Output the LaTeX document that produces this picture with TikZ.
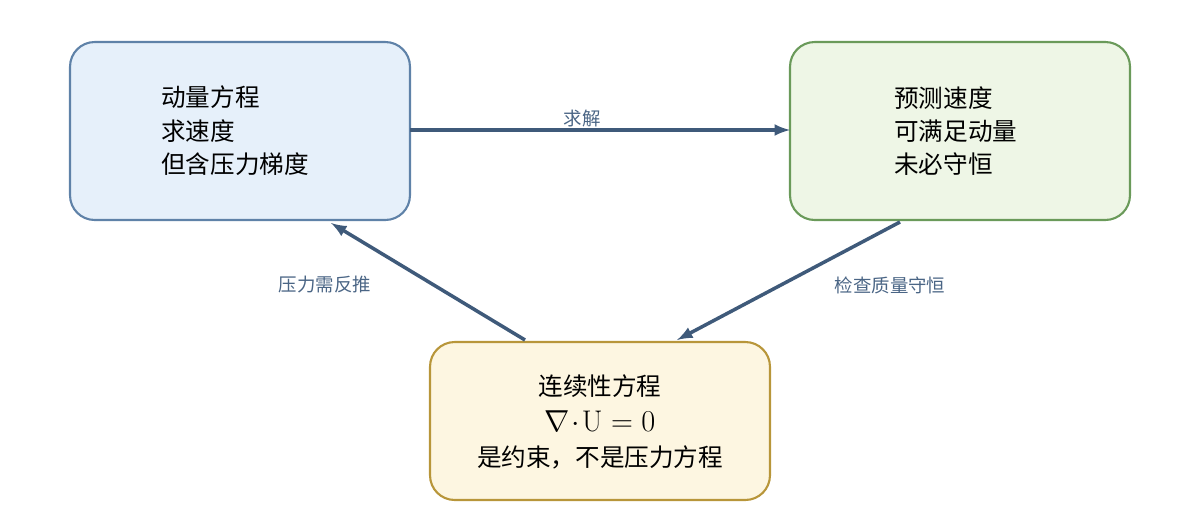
\documentclass[tikz,border=0pt]{standalone}
\usepackage{fontspec}
\newfontfamily\cjk{Noto Sans CJK SC}
\usetikzlibrary{positioning}
\definecolor{arrowblue}{HTML}{3F5A7A}
\definecolor{labelblue}{HTML}{4A6585}
\definecolor{momdraw}{HTML}{5F82A8}
\definecolor{momfill}{HTML}{E6F0FA}
\definecolor{preddraw}{HTML}{6A9A5A}
\definecolor{predfill}{HTML}{EEF6E6}
\definecolor{contdraw}{HTML}{B8963A}
\definecolor{contfill}{HTML}{FDF6E1}
\tikzset{
  box/.style={rounded corners=14pt, line width=1.2pt, minimum width=6.8cm, minimum height=3.56cm},
  boxtext/.style={font=\cjk\fontsize{14}{19}\selectfont, align=left},
  flow/.style={->, >=latex, line width=2pt, draw=arrowblue},
  lbl/.style={font=\cjk\fontsize{10.5}{12}\selectfont, text=labelblue}
}
\begin{document}
\begin{tikzpicture}[x=0.02cm,y=-0.02cm]
  \useasboundingbox (0,0) rectangle (1200,511);
  % the three boxes
  \node[box, draw=momdraw, fill=momfill] (mom) at (240,131) {};
  \node[box, draw=preddraw, fill=predfill] (pred) at (960,131) {};
  \node[box, draw=contdraw, fill=contfill, minimum height=3.16cm] (cont) at (600,421) {};
  \node[boxtext, anchor=west] (momtext) at (155,131) {动量方程\\求速度\\但含压力梯度};
  \node[boxtext, anchor=west] (predtext) at (888,131) {预测速度\\可满足动量\\未必守恒};
  \node[boxtext, align=center] (conttext) at (600,422) {连续性方程\\[1pt]{\rmfamily\fontsize{17}{19}\selectfont$\nabla\!\cdot\!\mathrm{U} = 0$}\\[1pt]是约束，不是压力方程};
  % connectors
  \coordinate (a1) at (410,130);
  \coordinate (a2) at (790,130);
  \coordinate (b1) at (900,222);
  \coordinate (b2) at (677,340);
  \coordinate (c1) at (525,340);
  \coordinate (c2) at (331,223);
  \draw[flow] (a1) -- (a2);
  \draw[flow] (b1) -- (b2);
  \draw[flow] (c1) -- (c2);
  \node[lbl] (solve) at (582,119) {求解};
  \node[lbl] (check) at (890,285) {检查质量守恒};
  \node[lbl] (back) at (325,285) {压力需反推};
\end{tikzpicture}
\end{document}
